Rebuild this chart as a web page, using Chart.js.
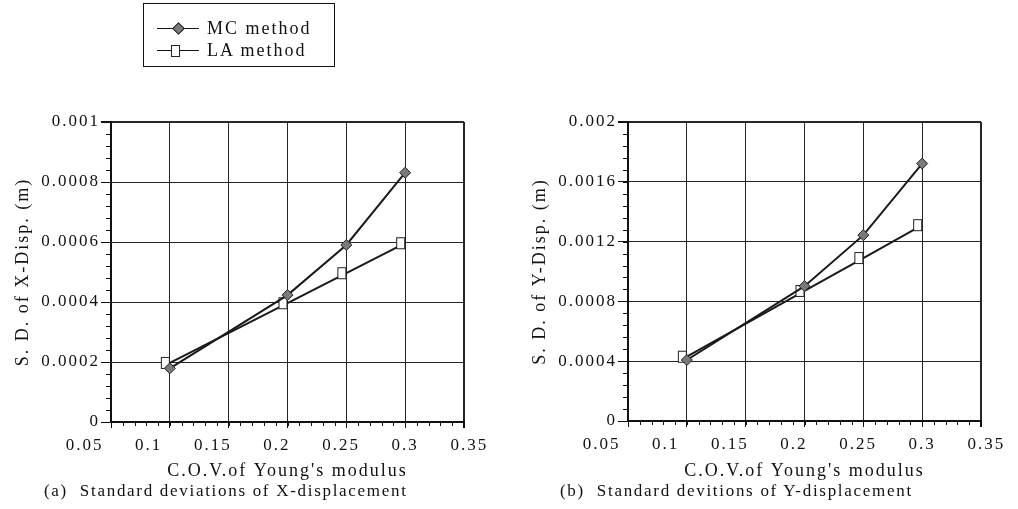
<!DOCTYPE html>
<html>
<head>
<meta charset="utf-8">
<title>S.D. of displacement</title>
<script src="https://cdn.jsdelivr.net/npm/chart.js@4.4.1/dist/chart.umd.min.js"></script>
<style>
    body {
        margin: 0;
        width: 1018px;
        height: 509px;
        position: relative;
        overflow: hidden;
        background: #fff;
        color: #111;
        font-family: "Liberation Serif", "DejaVu Serif", serif;
    }
    .panel {
        position: absolute;
        top: 0;
        width: 509px;
        height: 509px;
    }
    #panel-x { left: 0; }
    #panel-y { left: 509px; }

    .caption {
        position: absolute;
        top: 481px;
        font-size: 17px;
        letter-spacing: 1.7px;
        white-space: nowrap;
    }

    .legend {
        position: absolute;
        left: 143px;
        top: 3px;
        width: 190px;
        height: 62px;
        border: 1.5px solid #111;
        font-size: 18px;
        letter-spacing: 2px;
    }
    .legend .sample {
        position: absolute;
        left: 13px;
        width: 42px;
        height: 0;
        border-top: 1.5px solid #111;
    }
    .legend .label {
        position: absolute;
        left: 63px;
        line-height: 20px;
    }
    .legend .diamond {
        position: absolute;
        left: 17px;
        top: -5px;
        width: 7px;
        height: 7px;
        background: #7a7a7a;
        border: 1px solid #222;
        transform: rotate(45deg);
    }
    .legend .square {
        position: absolute;
        left: 14px;
        top: -6px;
        width: 7px;
        height: 10px;
        background: #fff;
        border: 1px solid #222;
    }
</style>
</head>
<body>

<div class="panel" id="panel-x"><canvas id="chart-x" width="509" height="509"></canvas></div>
<div class="panel" id="panel-y"><canvas id="chart-y" width="509" height="509"></canvas></div>

<div class="legend">
    <div class="sample" style="top:24px"><i class="diamond"></i></div>
    <div class="label" style="top:14px">MC method</div>
    <div class="sample" style="top:46px"><i class="square"></i></div>
    <div class="label" style="top:36px">LA method</div>
</div>

<div class="caption" style="left:44px">(a)&nbsp; Standard deviations of X-displacement</div>
<div class="caption" style="left:560px">(b)&nbsp; Standard devitions of Y-displacement</div>

<script>
// Coefficient de variation du module d'Young
const cov = [0.1, 0.2, 0.25, 0.3];

// Ecart-type du déplacement X (m)
const mcDispX = [0.000179, 0.000423, 0.00059, 0.000831];
const laDispX = [0.000197, 0.000396, 0.000496, 0.000596];

// Ecart-type du déplacement Y (m)
const mcDispY = [0.000408, 0.000902, 0.001243, 0.001722];
const laDispY = [0.00043, 0.00087, 0.00109, 0.00131];

// Graduations
const xTicks = [0.05, 0.1, 0.15, 0.2, 0.25, 0.3, 0.35];
const xTickLabels = ['0.05', '0.1', '0.15', '0.2', '0.25', '0.3', '0.35'];
const yTicksX = [0, 0.0002, 0.0004, 0.0006, 0.0008, 0.001];
const yTickLabelsX = ['0', '0.0002', '0.0004', '0.0006', '0.0008', '0.001'];
const yTicksY = [0, 0.0004, 0.0008, 0.0012, 0.0016, 0.002];
const yTickLabelsY = ['0', '0.0004', '0.0008', '0.0012', '0.0016', '0.002'];

const INK = '#111';
const GRID = '#262626';

// Carré blanc du LA, dessiné un peu à gauche du sommet de la courbe
function makeSquareMarker() {
    const c = document.createElement('canvas');
    c.width = 22;
    c.height = 14;
    const g = c.getContext('2d');
    g.fillStyle = '#fff';
    g.strokeStyle = '#222';
    g.lineWidth = 1;
    g.fillRect(2.5, 1.5, 8, 11);
    g.strokeRect(2.5, 1.5, 8, 11);
    return c;
}
const squareMarker = makeSquareMarker();

// Espacement des lettres (police type Mincho du document d'origine)
const letterSpacing = {
    id: 'letterSpacing',
    beforeDraw(chart) {
        chart.ctx.letterSpacing = '2px';
    }
};

// Les étiquettes de l'axe X sont un peu plus espacées que la grille
const labelStretch = {
    id: 'labelStretch',
    beforeDraw(chart, args, opts) {
        const scale = chart.scales.x;
        const items = scale.getLabelItems(chart.chartArea);
        if (items._stretched) return;
        const anchor = scale.getPixelForValue(opts.anchor);
        items.forEach(item => {
            const t = item.options.translation;
            t[0] = anchor + (t[0] - anchor) * opts.factor;
        });
        items._stretched = true;
    }
};

// Petites graduations secondaires sur les deux axes
const minorTicks = {
    id: 'minorTicks',
    afterDraw(chart, args, opts) {
        const { ctx, chartArea, scales: { x, y } } = chart;
        ctx.save();
        ctx.strokeStyle = INK;
        ctx.lineWidth = 1;
        ctx.beginPath();
        const nx = Math.round((x.max - x.min) / opts.xStep);
        for (let i = 0; i <= nx; i++) {
            const px = Math.round(x.getPixelForValue(x.min + i * opts.xStep)) + 0.5;
            ctx.moveTo(px, chartArea.bottom);
            ctx.lineTo(px, chartArea.bottom + opts.xLen);
        }
        const ny = Math.round((y.max - y.min) / opts.yStep);
        for (let i = 0; i <= ny; i++) {
            const py = Math.round(y.getPixelForValue(y.min + i * opts.yStep)) + 0.5;
            ctx.moveTo(chartArea.left - opts.yLen, py);
            ctx.lineTo(chartArea.left, py);
        }
        ctx.stroke();
        ctx.restore();
    }
};

function toPoints(values) {
    return cov.map((x, i) => ({ x: x, y: values[i] }));
}

function createChart(canvasId, cfg) {
    const tickFont = { family: '"Liberation Serif", serif', size: 17 };
    const titleFont = { family: '"Liberation Serif", serif', size: 18 };
    const yMax = cfg.yTicks[cfg.yTicks.length - 1];

    return new Chart(document.getElementById(canvasId), {
        type: 'line',
        data: {
            datasets: [{
                label: 'MC method',
                data: toPoints(cfg.mc),
                borderColor: '#1a1a1a',
                borderWidth: 2,
                tension: 0,
                pointStyle: 'rectRot',
                pointRadius: 5.5,
                pointBackgroundColor: '#7a7a7a',
                pointBorderColor: '#222',
                pointBorderWidth: 1
            }, {
                label: 'LA method',
                data: toPoints(cfg.la),
                borderColor: '#1a1a1a',
                borderWidth: 2,
                tension: 0,
                pointStyle: squareMarker,
                pointRadius: 6
            }]
        },
        plugins: [letterSpacing, labelStretch, minorTicks],
        options: {
            responsive: false,
            animation: false,
            events: [],
            layout: {
                padding: { top: 122, right: cfg.rightPad, bottom: 0, left: 0 }
            },
            plugins: {
                legend: { display: false },
                tooltip: { enabled: false },
                labelStretch: { anchor: 0.3, factor: 1.09 },
                minorTicks: { xStep: 0.01, xLen: 4, yStep: cfg.yMinor, yLen: 5 }
            },
            scales: {
                x: {
                    type: 'linear',
                    min: 0.05,
                    max: 0.35,
                    afterBuildTicks: scale => {
                        scale.ticks = xTicks.map(v => ({ value: v }));
                    },
                    afterFit: scale => {
                        scale.height = 509 - cfg.bottom;
                    },
                    ticks: {
                        autoSkip: false,
                        maxRotation: 0,
                        padding: 7,
                        color: INK,
                        font: tickFont,
                        callback: (value, index) => xTickLabels[index]
                    },
                    grid: {
                        color: GRID,
                        lineWidth: ctx => (ctx.tick && ctx.tick.value === 0.35 ? 2 : 1),
                        tickLength: 6,
                        tickColor: INK
                    },
                    border: { color: INK, width: 2 },
                    title: {
                        display: true,
                        text: "C.O.V.of Young's modulus",
                        color: INK,
                        font: titleFont,
                        padding: { top: 0, bottom: 27 }
                    }
                },
                y: {
                    type: 'linear',
                    min: 0,
                    max: yMax,
                    afterBuildTicks: scale => {
                        scale.ticks = cfg.yTicks.map(v => ({ value: v }));
                    },
                    afterFit: scale => {
                        scale.width = cfg.yWidth;
                    },
                    ticks: {
                        autoSkip: false,
                        padding: 1,
                        color: INK,
                        font: tickFont,
                        callback: (value, index) => cfg.yLabels[index]
                    },
                    grid: {
                        color: GRID,
                        lineWidth: ctx => (ctx.tick && ctx.tick.value === yMax ? 2 : 1),
                        tickLength: 10,
                        tickColor: INK
                    },
                    border: { color: INK, width: 2 },
                    title: {
                        display: true,
                        text: cfg.yTitle,
                        color: INK,
                        font: titleFont,
                        padding: { top: cfg.yTitlePad, bottom: 0 }
                    }
                }
            }
        }
    });
}

// Initialisation
createChart('chart-x', {
    mc: mcDispX,
    la: laDispX,
    yTicks: yTicksX,
    yLabels: yTickLabelsX,
    yMinor: 0.00004,
    yTitle: 'S. D. of X-Disp. (m)',
    yTitlePad: 12,
    yWidth: 111,
    rightPad: 509 - 464,
    bottom: 422
});

createChart('chart-y', {
    mc: mcDispY,
    la: laDispY,
    yTicks: yTicksY,
    yLabels: yTickLabelsY,
    yMinor: 0.00008,
    yTitle: 'S. D. of Y-Disp. (m)',
    yTitlePad: 20,
    yWidth: 119,
    rightPad: 509 - 472,
    bottom: 421
});
</script>
</body>
</html>
